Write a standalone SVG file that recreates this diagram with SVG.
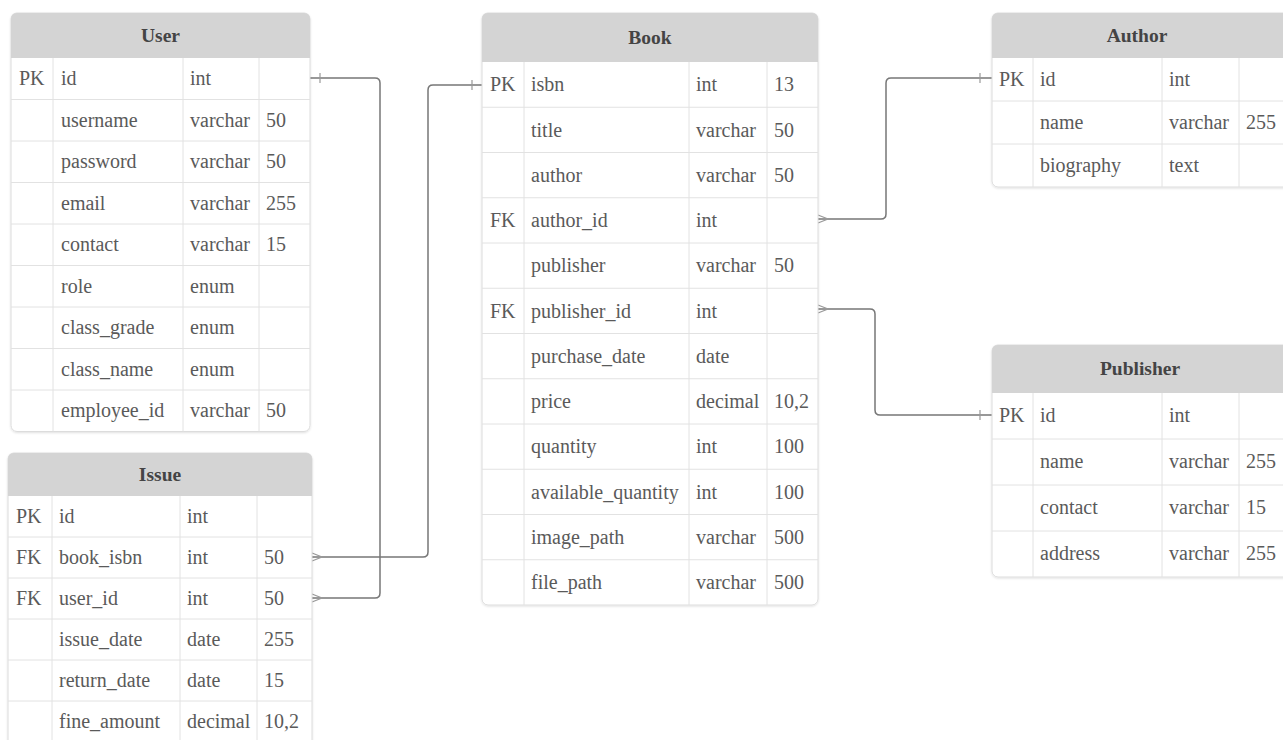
<svg xmlns="http://www.w3.org/2000/svg" width="1283" height="740" viewBox="0 0 1283 740">
<defs>
<style>
.box{fill:#fff;stroke:#dcdcdc;stroke-width:1}
.hdr{fill:#d4d4d4}
.grid{stroke:#e2e2e2;stroke-width:1;fill:none}
.t{font-family:"Liberation Serif","Times New Roman",serif;font-size:20px;fill:#5a5a5a}
.h{font-family:"Liberation Serif","Times New Roman",serif;font-size:19.5px;font-weight:bold;fill:#444;text-anchor:middle}
.c{fill:none;stroke:#777;stroke-width:1.5}
.m{fill:none;stroke:#999;stroke-width:1.2}
</style>
<filter id="sh" x="-5%" y="-5%" width="110%" height="110%"><feDropShadow dx="0" dy="1" stdDeviation="1.2" flood-color="#000" flood-opacity="0.12"/></filter>
</defs>
<rect width="1283" height="740" fill="#fff"/>

<g id="connectors">
<path class="c" d="M310,78 H375 Q380,78 380,83 V593 Q380,598 375,598 H312"/>
<path class="m" d="M320,73 V83 M312,594 L322,598 L312,602"/>
<path class="c" d="M312,557 H423 Q428,557 428,552 V90 Q428,85 433,85 H482"/>
<path class="m" d="M472,80 V90 M312,553 L322,557 L312,561"/>
<path class="c" d="M818,219 H881 Q886,219 886,214 V83 Q886,78 891,78 H992"/>
<path class="m" d="M980,73 V83 M818,215 L828,219 L818,223"/>
<path class="c" d="M818,309 H870 Q875,309 875,314 V410 Q875,415 880,415 H992"/>
<path class="m" d="M980,410 V420 M818,305 L828,309 L818,313"/>
</g>

<g id="User">
<rect class="box" x="11" y="13" width="299" height="418.5" rx="6" filter="url(#sh)"/>
<path class="hdr" d="M11,58 V19 Q11,13 17,13 H304 Q310,13 310,19 V58 Z"/>
<path class="grid" d="M11,99.5 H310 M11,141 H310 M11,182.5 H310 M11,224 H310 M11,265.5 H310 M11,307 H310 M11,348.5 H310 M11,390 H310 M53,58 V431.5 M183,58 V431.5 M259,58 V431.5"/>
<text class="h" x="160.5" y="42">User</text>
<text class="t" x="19" y="85">PK</text><text class="t" x="61" y="85">id</text><text class="t" x="190" y="85">int</text>
<text class="t" x="61" y="126.5">username</text><text class="t" x="190" y="126.5">varchar</text><text class="t" x="266" y="126.5">50</text>
<text class="t" x="61" y="168">password</text><text class="t" x="190" y="168">varchar</text><text class="t" x="266" y="168">50</text>
<text class="t" x="61" y="209.5">email</text><text class="t" x="190" y="209.5">varchar</text><text class="t" x="266" y="209.5">255</text>
<text class="t" x="61" y="251">contact</text><text class="t" x="190" y="251">varchar</text><text class="t" x="266" y="251">15</text>
<text class="t" x="61" y="292.5">role</text><text class="t" x="190" y="292.5">enum</text>
<text class="t" x="61" y="334">class_grade</text><text class="t" x="190" y="334">enum</text>
<text class="t" x="61" y="375.5">class_name</text><text class="t" x="190" y="375.5">enum</text>
<text class="t" x="61" y="417">employee_id</text><text class="t" x="190" y="417">varchar</text><text class="t" x="266" y="417">50</text>
</g>

<g id="Issue">
<rect class="box" x="8" y="453" width="304" height="300" rx="6" filter="url(#sh)"/>
<path class="hdr" d="M8,496 V459 Q8,453 14,453 H306 Q312,453 312,459 V496 Z"/>
<path class="grid" d="M8,537 H312 M8,578 H312 M8,619 H312 M8,660 H312 M8,701 H312 M52,496 V753 M180,496 V753 M257,496 V753"/>
<text class="h" x="160" y="481">Issue</text>
<text class="t" x="16" y="523">PK</text><text class="t" x="59" y="523">id</text><text class="t" x="187" y="523">int</text>
<text class="t" x="16" y="564">FK</text><text class="t" x="59" y="564">book_isbn</text><text class="t" x="187" y="564">int</text><text class="t" x="264" y="564">50</text>
<text class="t" x="16" y="605">FK</text><text class="t" x="59" y="605">user_id</text><text class="t" x="187" y="605">int</text><text class="t" x="264" y="605">50</text>
<text class="t" x="59" y="646">issue_date</text><text class="t" x="187" y="646">date</text><text class="t" x="264" y="646">255</text>
<text class="t" x="59" y="687">return_date</text><text class="t" x="187" y="687">date</text><text class="t" x="264" y="687">15</text>
<text class="t" x="59" y="728">fine_amount</text><text class="t" x="187" y="728">decimal</text><text class="t" x="264" y="728">10,2</text>
</g>

<g id="Book">
<rect class="box" x="482" y="13" width="336" height="592" rx="6" filter="url(#sh)"/>
<path class="hdr" d="M482,62 V19 Q482,13 488,13 H812 Q818,13 818,19 V62 Z"/>
<path class="grid" d="M482,107.25 H818 M482,152.5 H818 M482,197.75 H818 M482,243 H818 M482,288.25 H818 M482,333.5 H818 M482,378.75 H818 M482,424 H818 M482,469.25 H818 M482,514.5 H818 M482,559.75 H818 M524,62 V605 M689,62 V605 M767,62 V605"/>
<text class="h" x="650" y="44">Book</text>
<text class="t" x="490" y="91">PK</text><text class="t" x="531" y="91">isbn</text><text class="t" x="696" y="91">int</text><text class="t" x="774" y="91">13</text>
<text class="t" x="531" y="136.5">title</text><text class="t" x="696" y="136.5">varchar</text><text class="t" x="774" y="136.5">50</text>
<text class="t" x="531" y="181.5">author</text><text class="t" x="696" y="181.5">varchar</text><text class="t" x="774" y="181.5">50</text>
<text class="t" x="490" y="227">FK</text><text class="t" x="531" y="227">author_id</text><text class="t" x="696" y="227">int</text>
<text class="t" x="531" y="272">publisher</text><text class="t" x="696" y="272">varchar</text><text class="t" x="774" y="272">50</text>
<text class="t" x="490" y="317.5">FK</text><text class="t" x="531" y="317.5">publisher_id</text><text class="t" x="696" y="317.5">int</text>
<text class="t" x="531" y="362.5">purchase_date</text><text class="t" x="696" y="362.5">date</text>
<text class="t" x="531" y="408">price</text><text class="t" x="696" y="408">decimal</text><text class="t" x="774" y="408">10,2</text>
<text class="t" x="531" y="453">quantity</text><text class="t" x="696" y="453">int</text><text class="t" x="774" y="453">100</text>
<text class="t" x="531" y="498.5">available_quantity</text><text class="t" x="696" y="498.5">int</text><text class="t" x="774" y="498.5">100</text>
<text class="t" x="531" y="543.5">image_path</text><text class="t" x="696" y="543.5">varchar</text><text class="t" x="774" y="543.5">500</text>
<text class="t" x="531" y="589">file_path</text><text class="t" x="696" y="589">varchar</text><text class="t" x="774" y="589">500</text>
</g>

<g id="Author">
<rect class="box" x="992" y="13" width="310" height="174" rx="6" filter="url(#sh)"/>
<path class="hdr" d="M992,58 V19 Q992,13 998,13 H1302 V58 Z"/>
<path class="grid" d="M992,101 H1302 M992,144 H1302 M1033,58 V187 M1162,58 V187 M1239,58 V187"/>
<text class="h" x="1137" y="42">Author</text>
<text class="t" x="999" y="86">PK</text><text class="t" x="1040" y="86">id</text><text class="t" x="1169" y="86">int</text>
<text class="t" x="1040" y="129">name</text><text class="t" x="1169" y="129">varchar</text><text class="t" x="1246" y="129">255</text>
<text class="t" x="1040" y="172">biography</text><text class="t" x="1169" y="172">text</text>
</g>

<g id="Publisher">
<rect class="box" x="992" y="345" width="310" height="232" rx="6" filter="url(#sh)"/>
<path class="hdr" d="M992,393 V351 Q992,345 998,345 H1302 V393 Z"/>
<path class="grid" d="M992,439 H1302 M992,485 H1302 M992,531 H1302 M1033,393 V577 M1162,393 V577 M1239,393 V577"/>
<text class="h" x="1140" y="375">Publisher</text>
<text class="t" x="999" y="422">PK</text><text class="t" x="1040" y="422">id</text><text class="t" x="1169" y="422">int</text>
<text class="t" x="1040" y="468">name</text><text class="t" x="1169" y="468">varchar</text><text class="t" x="1246" y="468">255</text>
<text class="t" x="1040" y="514">contact</text><text class="t" x="1169" y="514">varchar</text><text class="t" x="1246" y="514">15</text>
<text class="t" x="1040" y="560">address</text><text class="t" x="1169" y="560">varchar</text><text class="t" x="1246" y="560">255</text>
</g>
</svg>
